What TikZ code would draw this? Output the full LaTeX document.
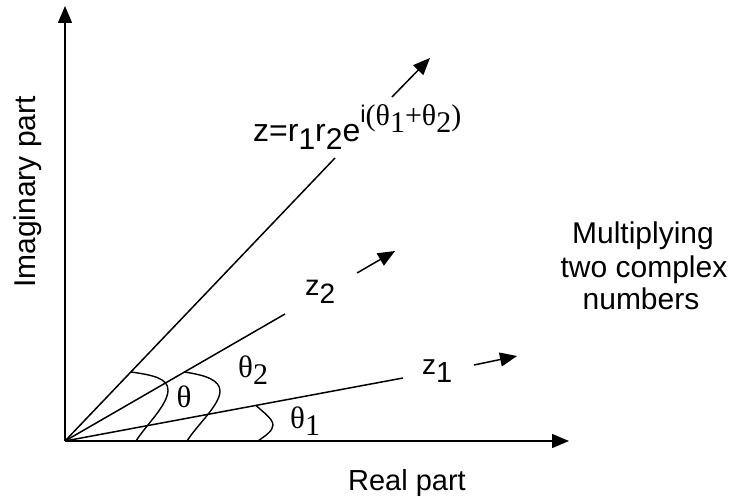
\documentclass[tikz,border=0pt]{standalone}
\usepackage{fontspec}
\setmainfont{Liberation Sans}
\newfontfamily\serifm{Liberation Serif}
\usetikzlibrary{arrows.meta,calc}
\newcommand\lowsub[2][30]{\raisebox{-8pt}{\fontsize{#1}{#1}\selectfont #2}}
\newcommand\thsub[1]{\raisebox{-7pt}{#1}}
\begin{document}
\begin{tikzpicture}[x=1pt,y=-1pt,
  ln/.style={line width=1.5pt,black},
  arr/.style={line width=1.5pt,black,-{Triangle[length=17pt,width=14pt]}},
  curv/.style={line width=1.4pt,black},
  lab/.style={inner sep=0pt,anchor=base west,font=\fontsize{32}{32}\selectfont},
  thl/.style={inner sep=0pt,anchor=base west,font=\serifm\fontsize{31}{31}\selectfont},
  txt/.style={inner sep=0pt,anchor=base,font=\fontsize{30}{30}\selectfont}]
\useasboundingbox (0,0) rectangle (734,497);
% coordinates
\coordinate (O) at (65,441);
\coordinate (ytip) at (65,6);
\coordinate (xtip) at (569,441);
\coordinate (zend) at (335,158);
\coordinate (ztail) at (392,97);
\coordinate (zhead) at (430,58);
\coordinate (z2end) at (285,314);
\coordinate (z2tail) at (357,273);
\coordinate (z2head) at (395,251);
\coordinate (z1end) at (403,378);
\coordinate (z1tail) at (474,365);
\coordinate (z1head) at (517,356);
% axes
\draw[arr] (O) -- (ytip);
\draw[arr] (O) -- (xtip);
% rays
\draw[ln] (O) -- (zend);
\draw[ln] (O) -- (z2end);
\draw[ln] (O) -- (z1end);
% small direction arrows
\draw[arr] (ztail) -- (zhead);
\draw[arr] (z2tail) -- (z2head);
\draw[arr] (z1tail) -- (z1head);
% angle marks
\draw[curv] ($(O)!0.244!(zend)$) .. controls (152,375) and (168,378) .. (168,390)
  .. controls (168,405) and (146,425) .. (136,441);
\draw[curv] ($(O)!0.543!(z2end)$) .. controls (205,375) and (220,380) .. (220,391)
  .. controls (220,405) and (197,425) .. (187,441);
\draw[curv] ($(O)!0.565!(z1end)$) .. controls (263,412) and (273,419) .. (273,425)
  .. controls (273,431) and (265,436) .. (258,441);
% labels
\node[lab] (zl) at (253,142) {z=r\lowsub{1}r\lowsub{2}e\raisebox{16pt}{\raisebox{3pt}{\fontsize{24}{24}\selectfont i}\serifm\fontsize{30}{30}\selectfont(θ\thsub{1}+θ\thsub{2})}};
\node[lab,font=\fontsize{29}{29}\selectfont] (z2l) at (305,296) {z\lowsub[28]{2}};
\node[lab,font=\fontsize{28}{28}\selectfont] (z1l) at (422,374) {z\lowsub[29]{1}};
\node[thl] (th2) at (238,377) {θ\thsub{\fontsize{30}{30}\selectfont 2}};
\node[thl,anchor=base] (th) at (184,407) {θ};
\node[thl] (th1) at (290,428) {θ\thsub{\fontsize{30}{30}\selectfont 1}};
\node[txt,rotate=90] (im) at (35,192) {Imaginary part};
\node[txt,font=\fontsize{29}{29}\selectfont] (re) at (407,490) {Real part};
\node[txt] (m1) at (643,244) {Multiplying};
\node[txt] (m2) at (644,277) {two complex};
\node[txt] (m3) at (641,309) {numbers};
\end{tikzpicture}
\end{document}
